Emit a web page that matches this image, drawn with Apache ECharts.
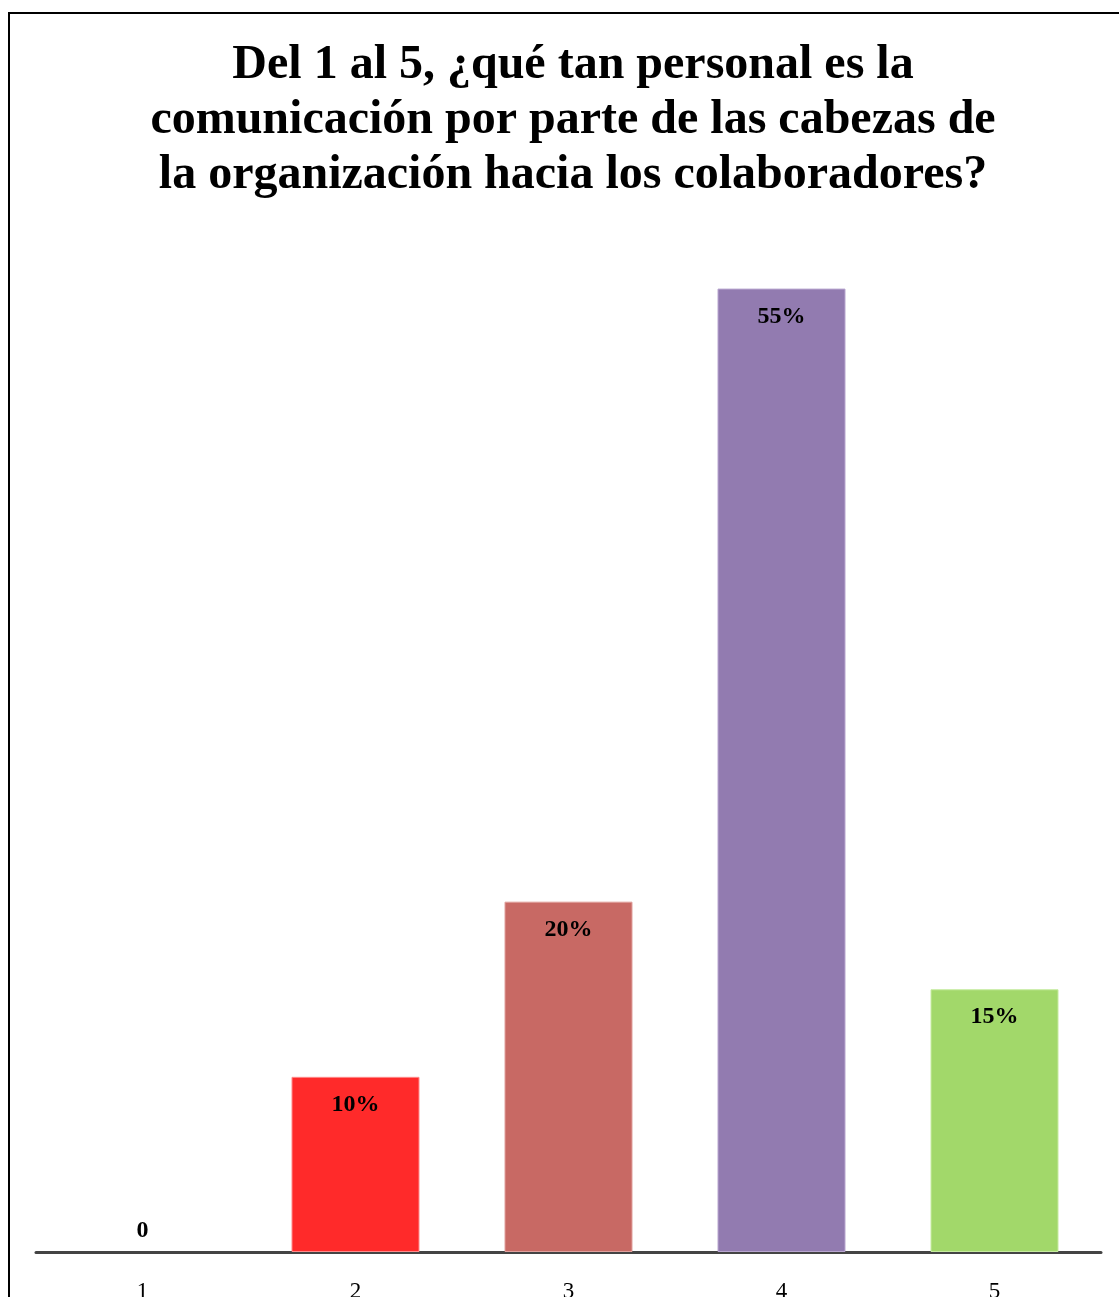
<!DOCTYPE html>
<html>
<head>
<meta charset="utf-8">
<script src="https://cdn.jsdelivr.net/npm/echarts@6/dist/echarts.min.js"></script>
<style>
  html, body { margin: 0; padding: 0; background: #fff; }
  #chart { width: 1119px; height: 1297px; }
</style>
</head>
<body>
<div id="chart"></div>
<script>
// Survey answers on a 1–5 scale, share of respondents (%)
const categories = ['1', '2', '3', '4', '5'];
const shares = [0, 10, 20, 55, 15];
const barColors = ['#FF2A2A', '#FF2A2A', '#C86964', '#927BB0', '#A2D86A'];
const edgeColors = ['#FF8A8A', '#FF8A8A', '#E0A09C', '#B8A6CF', '#C6EBA0'];
const titleText = 'Del 1 al 5, ¿qué tan personal es la\ncomunicación por parte de las cabezas de\nla organización hacia los colaboradores?';

const serif = '"Liberation Serif", "Times New Roman", serif';

const chart = echarts.init(document.getElementById('chart'), null, { renderer: 'canvas' });

chart.setOption({
  animation: false,
  backgroundColor: '#ffffff',
  title: {
    text: titleText,
    left: 568,
    top: 33,
    textAlign: 'center',
    textStyle: {
      fontFamily: serif,
      fontWeight: 'bold',
      fontSize: 48,
      lineHeight: 55,
      color: '#000'
    }
  },
  graphic: [{
    type: 'rect',
    shape: { x: 9, y: 13, width: 1300, height: 1400 },
    style: { fill: 'none', stroke: '#000', lineWidth: 2 },
    silent: true
  }],
  grid: { left: 36, right: 18, top: 201, bottom: 45, outerBoundsMode: 'none', containLabel: false },
  xAxis: {
    type: 'category',
    data: categories,
    axisLine: { lineStyle: { color: '#444', width: 3 } },
    axisTick: { show: false },
    axisLabel: {
      margin: 28,
      fontFamily: serif,
      fontSize: 23,
      color: '#000'
    }
  },
  yAxis: {
    type: 'value',
    min: 0,
    max: 60,
    show: false,
    splitLine: { show: false }
  },
  series: [{
    type: 'bar',
    barWidth: 128,
    data: shares.map((v, i) => ({
      value: v,
      itemStyle: {
        color: barColors[i],
        borderColor: edgeColors[i],
        borderWidth: v === 0 ? 0 : 1
      },
      label: v === 0 ? { position: 'top', distance: 9 } : undefined
    })),
    label: {
      show: true,
      position: 'insideTop',
      distance: 16,
      fontFamily: serif,
      fontWeight: 'bold',
      fontSize: 24,
      color: '#000',
      formatter: p => (p.value === 0 ? '0' : p.value + '%')
    }
  }]
});
</script>
</body>
</html>
